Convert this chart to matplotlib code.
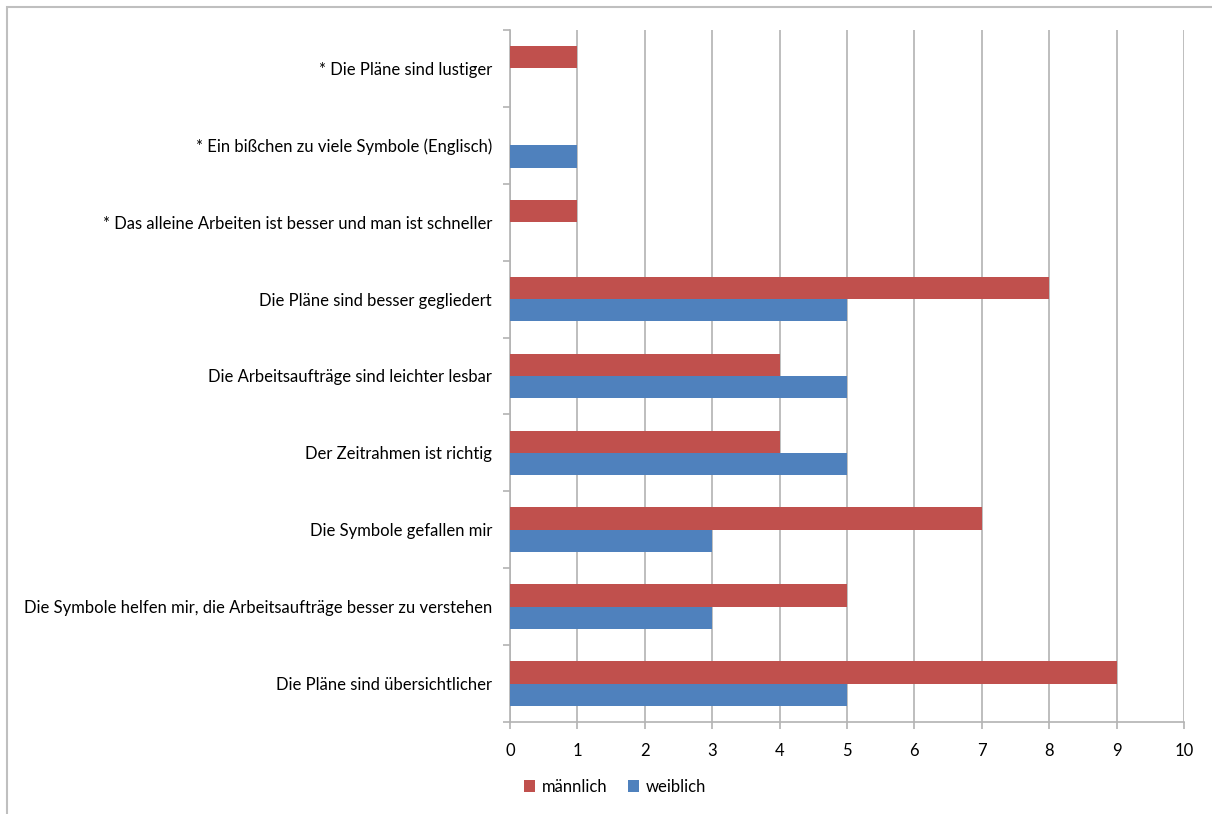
import matplotlib
matplotlib.use("Agg")
import matplotlib.pyplot as plt
from matplotlib.patches import Patch, Rectangle
import numpy as np

categories = [
    "Die Pläne sind übersichtlicher",
    "Die Symbole helfen mir, die Arbeitsaufträge besser zu verstehen",
    "Die Symbole gefallen mir",
    "Der Zeitrahmen ist richtig",
    "Die Arbeitsaufträge sind leichter lesbar",
    "Die Pläne sind besser gegliedert",
    "* Das alleine Arbeiten ist besser und man ist schneller",
    "* Ein bißchen zu viele Symbole (Englisch)",
    "* Die Pläne sind lustiger",
]
maennlich = [9, 5, 7, 4, 4, 8, 1, 0, 1]
weiblich = [5, 3, 3, 5, 5, 5, 0, 1, 0]
series_names = ["männlich", "weiblich"]
xticks = list(range(0, 11))

RED = "#C0504D"
BLUE = "#4F81BD"
GRID = "#B3B3B3"

plt.rcParams['font.family'] = ['Lato', 'DejaVu Sans']

fig = plt.figure(figsize=(12.12, 8.14), dpi=100)
fig.patches.append(Rectangle((7/1212, -0.1), 1.2, 1 - 7/814 + 0.1, transform=fig.transFigure,
                             fill=False, edgecolor="#BFBFBF", linewidth=1.5))
ax = fig.add_axes([510/1212, 1 - 722/814, 674/1212, 692/814])

y = np.arange(len(categories))
h = 0.29
ax.barh(y + h/2, maennlich, height=h, color=RED, zorder=3)
ax.barh(y - h/2, weiblich, height=h, color=BLUE, zorder=3)

ax.set_xlim(0, 10)
ax.set_ylim(-0.5, len(categories) - 0.5)
ax.set_xticks(xticks)
ax.set_xticklabels([str(t) for t in xticks], fontsize=12)
ax.xaxis.grid(True, color=GRID, linewidth=1.2, zorder=0)
ax.set_yticks(y)
ax.set_yticklabels(categories, fontsize=12)
ax.set_yticks(np.arange(-0.5, len(categories), 1), minor=True)
ax.tick_params(axis='y', which='major', length=0, pad=13)
ax.tick_params(axis='y', which='minor', length=5, color=GRID, width=1.2)
ax.tick_params(axis='x', which='major', length=5, color=GRID, width=1.2, pad=10)
for s in ["top", "right"]:
    ax.spines[s].set_visible(False)
for s in ["left", "bottom"]:
    ax.spines[s].set_color(GRID)
    ax.spines[s].set_linewidth(1.2)

handles = [Patch(facecolor=RED), Patch(facecolor=BLUE)]
fig.legend(handles, series_names, loc="center", bbox_to_anchor=(615/1212, 1 - 787/814),
           ncol=2, frameon=False, fontsize=12, handlelength=0.7, handleheight=0.7,
           handletextpad=0.4, columnspacing=1.2)

fig.savefig("out.png", dpi=100)
